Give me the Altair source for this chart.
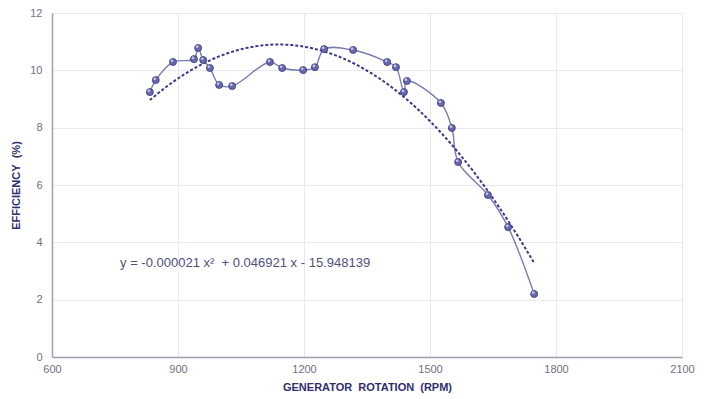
import altair as alt
import pandas as pd

rpm = [833, 847, 888, 938, 948, 960, 976, 998, 1029, 1119, 1148, 1198, 1226, 1248,
       1317, 1398, 1419, 1438, 1445, 1526, 1552, 1567, 1638, 1686, 1748]
eff = [9.24, 9.66, 10.29, 10.39, 10.78, 10.36, 10.08, 9.49, 9.45, 10.29, 10.08, 10.01, 10.11, 10.74,
       10.71, 10.29, 10.11, 9.24, 9.63, 8.86, 7.99, 6.80, 5.65, 4.53, 2.20]

eq_text = ["y = -0.000021 x\u00b2\u00a0\u00a0+ 0.046921 x - 15.948139"]
eq_x = [762]
eq_y = [3.28]

df = pd.DataFrame({"rpm": rpm, "eff": eff})
eq_df = pd.DataFrame({"t": eq_text, "x": eq_x, "y": eq_y})

xs = alt.Scale(domain=[600, 2100], nice=False, zero=False)
ys = alt.Scale(domain=[0, 12], nice=False)

xaxis = alt.Axis(values=[600, 900, 1200, 1500, 1800, 2100], format="d",
                 title="GENERATOR\u00a0\u00a0ROTATION\u00a0\u00a0(RPM)", labelFlush=False,
                 grid=True, gridColor="#e8e8f2", domainColor="#a0a0b0", domainWidth=1.5,
                 ticks=False, labelColor="#707080", labelFontSize=11, labelPadding=6,
                 labelFont="Liberation Sans", titleFont="Liberation Sans", titleFontSize=11,
                 titleFontWeight="bold", titleColor="#2e2e6e", titlePadding=7)
yaxis = alt.Axis(values=[0, 2, 4, 6, 8, 10, 12], title="EFFICIENCY\u00a0\u00a0(%)", labelFlush=False,
                 grid=True, gridColor="#e8e8f2", domainColor="#a0a0b0", domainWidth=1.5,
                 ticks=False, labelColor="#707080", labelFontSize=11, labelPadding=10,
                 labelFont="Liberation Sans", titleFont="Liberation Sans", titleFontSize=11,
                 titleFontWeight="bold", titleColor="#2e2e6e", titlePadding=8)

base = alt.Chart(df)

line = base.mark_line(color="#7b7bb8", strokeWidth=1.4, interpolate="catmull-rom").encode(
    x=alt.X("rpm:Q", scale=xs, axis=xaxis),
    y=alt.Y("eff:Q", scale=ys, axis=yaxis),
)

trend = base.transform_regression("rpm", "eff", method="poly", order=2).mark_line(
    color="#3a3a8c", strokeWidth=2, strokeDash=[3, 2]
).encode(x=alt.X("rpm:Q", scale=xs), y=alt.Y("eff:Q", scale=ys))

pts = base.mark_point(filled=True, fill="#6767ad", stroke="#3c3c7c", strokeWidth=0.8,
                      size=50, opacity=1).encode(
    x=alt.X("rpm:Q", scale=xs), y=alt.Y("eff:Q", scale=ys))

hl = base.mark_circle(color="#d0d0f0", size=7, xOffset=-1, yOffset=-1.3, opacity=0.9).encode(
    x=alt.X("rpm:Q", scale=xs), y=alt.Y("eff:Q", scale=ys))

eq = alt.Chart(eq_df).mark_text(align="left", baseline="middle", font="Liberation Sans",
                                fontSize=13, color="#50507e").encode(
    x=alt.X("x:Q", scale=xs), y=alt.Y("y:Q", scale=ys), text="t:N")

chart = alt.layer(line, trend, pts, hl, eq).properties(
    width=630, height=344,
    autosize=alt.AutoSizeParams(type="none"),
    padding={"left": 52, "top": 13, "right": 29, "bottom": 42},
    background="white",
).configure_view(stroke=None)

chart.save("out.html", embed_options={"renderer": "svg", "actions": False})
